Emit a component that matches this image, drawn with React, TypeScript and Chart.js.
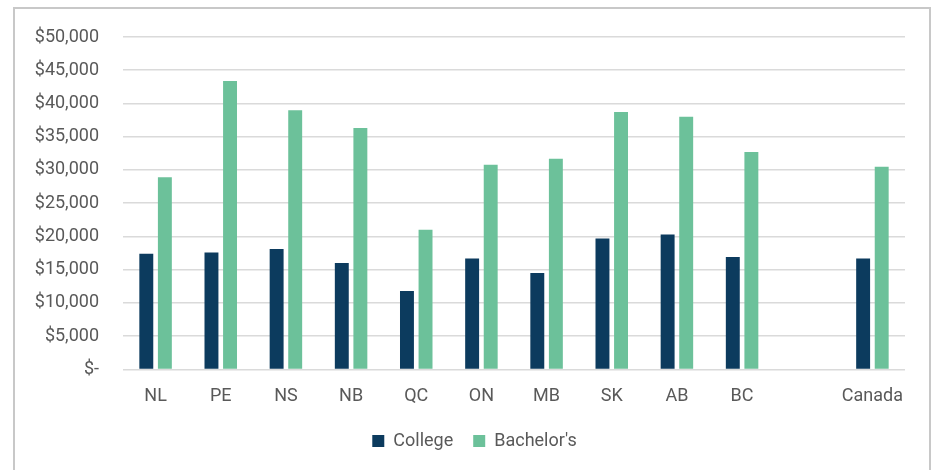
import React, { useEffect, useRef } from "react";
import { Chart, registerables } from "chart.js";

Chart.register(...registerables);

const categories = ["NL", "PE", "NS", "NB", "QC", "ON", "MB", "SK", "AB", "BC", "", "Canada"];
const collegeValues = [17400, 17600, 18100, 16000, 11800, 16700, 14500, 19700, 20300, 16900, null, 16700];
const bachelorValues = [28900, 43400, 39000, 36300, 21000, 30800, 31700, 38700, 38000, 32700, null, 30500];
const yTicks = [0, 5000, 10000, 15000, 20000, 25000, 30000, 35000, 40000, 45000, 50000];

const TEXT = "#595959";
const FONT = "Roboto, 'Noto Sans', sans-serif";

const legendShift = {
  id: "legendShift",
  afterLayout(chart: any) {
    if (chart.legend) {
      chart.legend.left = 44;
      chart.legend.width = chart.legend.right - 44;
    }
  },
};

export default function App() {
  const ref = useRef<HTMLCanvasElement | null>(null);

  useEffect(() => {
    const canvas = ref.current;
    if (!canvas) return;
    const chart = new Chart(canvas, {
      type: "bar",
      data: {
        labels: categories,
        datasets: [
          {
            label: "College",
            data: collegeValues,
            backgroundColor: "#0c3b5e",
            categoryPercentage: 0.57,
            barPercentage: 0.75,
          },
          {
            label: "Bachelor's",
            data: bachelorValues,
            backgroundColor: "#6cc19a",
            categoryPercentage: 0.57,
            barPercentage: 0.75,
          },
        ],
      },
      plugins: [legendShift],
      options: {
        responsive: false,
        animation: false,
        devicePixelRatio: 1,
        layout: { padding: { left: 0, right: 27, top: 37, bottom: 10 } },
        plugins: {
          legend: {
            position: "bottom",
            labels: {
              boxWidth: 12,
              boxHeight: 12,
              padding: 20,
              color: TEXT,
              font: { family: FONT, size: 18 },
            },
          },
          tooltip: { enabled: false },
        },
        scales: {
          x: {
            afterFit: (scale: any) => {
              scale.height = 42.6;
            },
            grid: { display: false, drawTicks: false },
            border: { display: false },
            ticks: {
              color: TEXT,
              font: { family: FONT, size: 18 },
              padding: 16,
              maxRotation: 0,
              autoSkip: false,
            },
          },
          y: {
            min: 0,
            max: 50000,
            afterFit: (scale: any) => {
              scale.width = 123;
            },
            afterBuildTicks: (scale: any) => {
              scale.ticks = yTicks.map((v) => ({ value: v }));
            },
            grid: { color: "#dadada", lineWidth: 1.5, drawTicks: false },
            border: { display: false },
            ticks: {
              color: TEXT,
              font: { family: FONT, size: 18 },
              padding: 24,
              callback: (v: any) =>
                Number(v) === 0 ? "$-" : "$" + Number(v).toLocaleString("en-US"),
            },
          },
        },
      },
    });
    return () => chart.destroy();
  }, []);

  return (
    <div style={{ position: "fixed", left: 0, top: 0, width: 932, height: 470, background: "#fff" }}>
      <div
        style={{
          position: "absolute",
          left: 13,
          top: 7,
          width: 918,
          height: 470,
          boxSizing: "border-box",
          border: "2px solid #c8c8c8",
          borderBottom: "none",
        }}
      />
      <canvas
        ref={ref}
        width={932}
        height={470}
        style={{ position: "absolute", left: 0, top: 0, width: 932, height: 470 }}
      />
    </div>
  );
}
